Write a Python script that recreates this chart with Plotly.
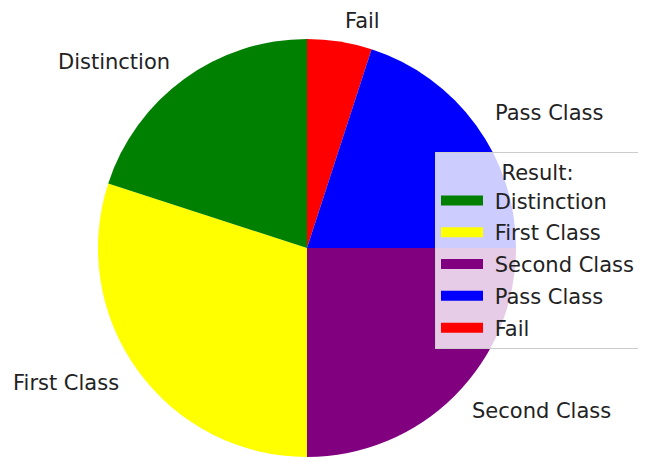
import math
import plotly.graph_objects as go

# Data
categories = ["Distinction", "First Class", "Second Class", "Pass Class", "Fail"]
values = [20, 30, 25, 20, 5]
colors = ["green", "yellow", "purple", "blue", "red"]
legend_title = "Result:"

W, H = 646, 457
OFF = 8  # page body margin offset compensation
FONT = "DejaVu Sans"
FS = 21
TXT = "#222222"

# pie geometry in reference-pixel terms (center, radius)
CX, CY, R = 307 - OFF, 248 - OFF, 209
dom_x = [(CX - R) / W, (CX + R) / W]
dom_y = [(H - (CY + R)) / H, (H - (CY - R)) / H]

fig = go.Figure()
# clockwise with reversed order == counterclockwise from 12 o'clock in given order
fig.add_trace(go.Pie(
    labels=categories[::-1], values=values[::-1], sort=False, direction="clockwise",
    rotation=0, marker=dict(colors=colors[::-1], line=dict(width=0)),
    textinfo="none", showlegend=False, domain=dict(x=dom_x, y=dom_y),
    hoverinfo="label+value",
))

# legend entries as wide patches
for i, (c, col) in enumerate(zip(categories, colors)):
    fig.add_trace(go.Scatter(x=[None], y=[None], mode="lines",
                             name="\u00a0" + c,
                             legendgroup=f"g{i}",
                             line=dict(color=col, width=14), showlegend=True))

# outside labels placed like matplotlib (1.1 * radius, at mid-angle)
cx = (dom_x[0] + dom_x[1]) / 2 * W
cy = H - (dom_y[0] + dom_y[1]) / 2 * H
r = min((dom_x[1] - dom_x[0]) * W, (dom_y[1] - dom_y[0]) * H) / 2
total = sum(values)
start = 90.0
annotations = []
for c, v in zip(categories, values):
    span = 360.0 * v / total
    mid = math.radians(start + span / 2)
    start += span
    px = cx + 1.1 * r * math.cos(mid)
    py = cy - 1.1 * r * math.sin(mid)
    annotations.append(dict(
        x=px / W, y=1 - py / H, xref="paper", yref="paper", text=c,
        showarrow=False, xanchor="left" if math.cos(mid) > 0 else "right",
        yanchor="middle", font=dict(family=FONT, size=FS, color=TXT),
    ))

fig.update_layout(
    width=W, height=H,
    margin=dict(l=0, r=0, t=0, b=0, autoexpand=False),
    paper_bgcolor="white", plot_bgcolor="white",
    xaxis=dict(visible=False), yaxis=dict(visible=False),
    annotations=annotations,
    font=dict(family=FONT, size=FS, color=TXT),
    legend=dict(
        x=(435 - OFF) / W, y=1 - (152 - OFF) / H, xanchor="left", yanchor="top",
        bgcolor="rgba(255,255,255,0.8)", bordercolor="#cccccc", borderwidth=1,
        title=dict(text=legend_title, side="top center", font=dict(size=FS)),
        font=dict(size=FS), itemwidth=42, tracegroupgap=1.5,
    ),
)

fig.write_html("out.html")
